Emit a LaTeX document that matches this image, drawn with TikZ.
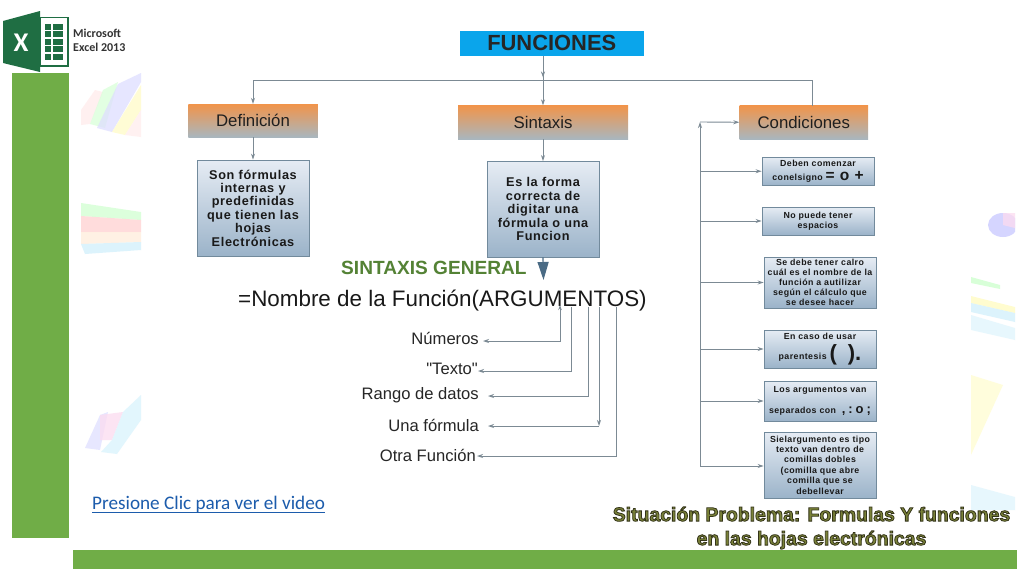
\documentclass[tikz,border=0pt]{standalone}
\usepackage{fontspec}
\setmainfont{Liberation Sans}
\newfontfamily\carl{Carlito}
\newfontfamily\plainf{Liberation Sans}
\usetikzlibrary{arrows.meta,calc}
\definecolor{xlgreen}{HTML}{70AD47}
\definecolor{xldark}{HTML}{1F6E43}
\definecolor{linec}{HTML}{7C8A94}
\definecolor{bigarr}{HTML}{4A6B85}
\definecolor{orangetop}{HTML}{F1944A}
\definecolor{orangebot}{HTML}{A9B6BE}
\definecolor{bluetop}{HTML}{E6ECF4}
\definecolor{bluebot}{HTML}{9BB3C9}
\definecolor{boxedge}{HTML}{728A9C}
\definecolor{funcblue}{HTML}{0AA5EB}
\definecolor{sggreen}{HTML}{548235}
\definecolor{linkblue}{HTML}{1C5CAC}
\definecolor{olive}{HTML}{7A8238}
\newcommand{\boxf}[1]{\fontsize{#1}{#1}\bfseries\addfontfeature{LetterSpace=5}}
\newcommand{\bigs}[2]{{\fontsize{#1}{#1}\selectfont\addfontfeature{LetterSpace=0}#2}}
\tikzset{
 x=1pt,y=-1pt,
 orangebox/.style={draw=none,top color=orangetop,bottom color=orangebot,inner sep=0,text=black!88,font=\fontsize{16.8}{16.8}\selectfont},
 bluebox/.style={draw=boxedge,line width=0.9pt,top color=bluetop,bottom color=bluebot,inner sep=0,align=center,text=black!90},
 conn/.style={draw=linec,line width=0.9pt},
 tip/.style={-{Stealth[length=6pt,width=4pt]}},
 tiptwo/.style={{Stealth[length=5pt,width=3.5pt]}-{Stealth[length=6pt,width=4pt]}},
 lab/.style={anchor=base east,inner sep=0,text=black!85,font=\fontsize{16.6}{16.6}\selectfont},
 wm/.style={draw=none,fill opacity=.75},
}
\begin{document}
\begin{tikzpicture}
\useasboundingbox (0,0) rectangle (1024,576);
\fill[white] (0,0) rectangle (1024,576);

% faint watermarks
\begin{scope}
\clip (81,70) rectangle (141,460);
\fill[wm,fill=pink!30] (81,110) -- (95,90) -- (103,92) -- (90,124) -- (81,125) -- cycle;
\fill[wm,fill=green!15] (90,124) -- (103,90) -- (118,82) -- (105,128) -- cycle;
\fill[wm,fill=blue!13] (97,128) -- (118,84) -- (141,73) -- (141,82) -- (112,132) -- cycle;
\fill[wm,fill=yellow!22] (112,132) -- (141,85) -- (141,110) -- (125,135) -- cycle;
\fill[wm,fill=pink!28] (125,135) -- (141,110) -- (141,137) -- cycle;
\fill[wm,fill=green!18] (81,203) -- (141,212) -- (141,220) -- (81,216) -- cycle;
\fill[wm,fill=red!18] (81,216) -- (141,220) -- (141,232) -- (81,232) -- cycle;
\fill[wm,fill=orange!14] (81,232) -- (141,232) -- (141,242) -- (81,244) -- cycle;
\fill[wm,fill=cyan!18] (81,244) -- (141,242) -- (141,250) -- (85,254) -- cycle;
\fill[wm,fill=blue!12] (85,448) -- (100,415) -- (108,412) -- (100,450) -- cycle;
\fill[wm,fill=magenta!14] (100,415) -- (123,412) -- (112,440) -- (100,440) -- cycle;
\fill[wm,fill=cyan!15] (101,452) -- (112,440) -- (123,412) -- (141,395) -- (141,420) -- (117,454) -- cycle;
\end{scope}
\begin{scope}
\clip (971,200) rectangle (1015,510);
\fill[wm,fill=blue!22] (1003,225) ellipse (15 and 12);
\fill[wm,fill=magenta!14] (1003,225) -- (1003,213) -- (1015,213) -- (1015,228) -- cycle;
\fill[wm,fill=green!20] (971,277) -- (1000,285) -- (1000,289) -- (971,283) -- cycle;
\fill[wm,fill=yellow!25] (971,296) -- (1015,307) -- (1015,313) -- (971,303) -- cycle;
\fill[wm,fill=cyan!18] (971,303) -- (1015,313) -- (1015,322) -- (971,312) -- cycle;
\fill[wm,fill=cyan!12] (971,315) -- (1015,328) -- (1015,340) -- (971,330) -- cycle;
\fill[wm,fill=yellow!18] (971,375) -- (1003,385) -- (971,455) -- cycle;
\fill[wm,fill=cyan!12] (971,485) -- (1015,497) -- (1015,510) -- (971,510) -- cycle;
\end{scope}

% side bars
\fill[xlgreen] (12,73) rectangle (69,538);
\fill[xlgreen] (73,550) rectangle (1017,569);

% Excel logo
\draw[xldark,line width=1.4pt,fill=white] (40,17.5) rectangle (68,66);
\foreach \yy in {23.5,31,38.5,46,53.5}{
  \fill[xldark] (45,\yy) rectangle (51,\yy+6);
  \fill[xldark] (53,\yy) rectangle (63,\yy+6);
}
\fill[xldark] (3,21) -- (40,11) -- (40,72) -- (3,63) -- cycle;
\node[text=white,inner sep=0,font=\carl\bfseries\fontsize{27}{27}\selectfont] (xl) at (21,43) {X};
\node[anchor=north west,inner sep=0,align=left,text=black!80,font=\carl\bfseries\fontsize{12}{13.5}\selectfont] (msx) at (73,29) {Microsoft\\Excel 2013};

% Title and heads
\node[fill=funcblue,minimum width=184.5pt,minimum height=25.5pt,inner sep=0,font=\fontsize{21.9}{21.9}\bfseries,text=black!85] (func) at (551.75,43.25) {FUNCIONES};
\node[orangebox,minimum width=129.5pt,minimum height=33pt] (def) at (253,120.5) {Definición};
\node[orangebox,minimum width=170pt,minimum height=33.5pt] (sin) at (543,122.25) {Sintaxis};
\node[orangebox,minimum width=128.5pt,minimum height=33.5pt] (con) at (803.75,122.25) {Condiciones};

% Blue boxes
\node[bluebox,minimum width=112pt,minimum height=96pt,font=\boxf{12.7},text width=110pt] (defb) at (253,208)
  {\baselineskip=13.4pt Son fórmulas\\internas y\\predefinidas\\que tienen las\\hojas\\Electrónicas\par};
\node[bluebox,minimum width=112pt,minimum height=95.5pt,font=\boxf{12.7},text width=110pt] (sinb) at (543,209.25)
  {\baselineskip=13.4pt Es la forma\\correcta de\\digitar una\\fórmula o una\\Funcion\par};

\node[bluebox,minimum width=112pt,minimum height=28.5pt,font=\boxf{8.8},text width=110pt] (c1) at (818,171.25)
  {\baselineskip=14.5pt Deben comenzar\\conelsigno \bigs{15.5}{=\,\,o\,\,+}\par};
\node[bluebox,minimum width=112pt,minimum height=28pt,font=\boxf{8.8},text width=110pt] (c2) at (818,221)
  {\baselineskip=10.5pt No puede tener\\espacios\par};
\node[bluebox,minimum width=112pt,minimum height=51pt,font=\boxf{8.8},text width=111pt] (c3) at (820,282.5)
  {\baselineskip=10pt Se debe tener calro\\cuál es el nombre de la\\función a  autilizar\\según el  cálculo que\\se desee hacer\par};
\node[bluebox,minimum width=112pt,minimum height=38pt,font=\boxf{8.8},text width=110pt] (c4) at (820,349)
  {\baselineskip=20pt En caso de usar\\parentesis \raisebox{-1pt}{\bigs{22}{(\,\,\,).}}\par};
\node[bluebox,minimum width=112pt,minimum height=40pt,font=\boxf{8.8},text width=111pt] (c5) at (820,401)
  {\baselineskip=21pt Los argumentos van\\separados con\ \ \bigs{13}{,\ :\ o\ ;}\par};
\node[bluebox,minimum width=112pt,minimum height=66pt,font=\boxf{8.8},text width=111pt] (c6) at (820,465)
  {\baselineskip=10.4pt Sielargumento es tipo\\texto van dentro de\\comillas dobles\\(comilla que abre\\comilla que se\\debellevar\par};

% Connectors top tree
\coordinate (bar) at (543,80.5);
\coordinate (cup) at (812,105.5);
\coordinate (trunktop) at (700,122);
\coordinate (trunkbot) at (700,466);
\draw[conn] (func.south -| sin.north) -- (bar);
\draw[conn,tip] (func.south -| sin.north) -- ($(bar)+(0,-3)$);
\draw[conn,tip] (bar -| def.north) -- (def.north);
\draw[conn] (bar -| def.north) -- (bar -| cup) -- (cup);
\draw[conn,tip] (bar) -- (sin.north);
\draw[conn,tip] (def.south) -- (defb.north);
\draw[conn,tip] (sin.south) -- (sinb.north);
\draw[conn,tip] (trunkbot) -- (trunktop);
\draw[conn,tip] (trunktop) -- (con.west);
\draw[conn,tip] (trunktop |- c1.west) -- (c1.west);
\draw[conn,tip] (trunktop |- c2.west) -- (c2.west);
\draw[conn,tip] (trunktop |- c3.west) -- (c3.west);
\draw[conn,tip] (trunktop |- c4.west) -- (c4.west);
\draw[conn,tip] (trunktop |- c5.west) -- (c5.west);
\draw[conn,tip] (trunkbot) -- (trunkbot -| c6.west);

% Sintaxis general
\node[anchor=base west,inner sep=0,text=sggreen,font=\fontsize{19.1}{19.1}\bfseries] (sg) at (341,274.5) {SINTAXIS GENERAL};
\node[anchor=base west,inner sep=0,text=black!90,font=\fontsize{22.4}{22.4}\selectfont] (form) at (238,306) {=Nombre de la Función(ARGUMENTOS)};
\coordinate (bigend) at (543.5,280);
\draw[bigarr,line width=1.2pt,-{Triangle[length=18pt,width=11pt]}] (sinb.south) -- (bigend);

% Argument list
\node[lab] (ln) at (479,344) {Números};
\node[lab] (lt) at (478,374) {\plainf "Texto"};
\node[lab] (lr) at (479,399) {Rango de datos};
\node[lab] (lu) at (479,431) {Una fórmula};
\node[lab] (lo) at (476,461) {Otra Función};
\coordinate (an) at (560,305);
\coordinate (at) at (571,307);
\coordinate (ar) at (588,307);
\coordinate (au) at (599,307);
\coordinate (ao) at (616,307);
\coordinate (tn) at (483,341);
\coordinate (tt) at (478,371);
\coordinate (tr) at (488,396);
\coordinate (tu) at (488,426);
\coordinate (to) at (477,456);
\draw[conn,tiptwo] (an) |- (tn);
\draw[conn,tip] (at) |- (tt);
\draw[conn,tip] (ar) |- (tr);
\draw[conn,tip] (au) -- (au |- tu);
\draw[conn,tip] (au |- tu) -- (tu);
\draw[conn,tip] (ao) |- (to);

% Link
\node[anchor=base west,inner sep=0,text=linkblue,font=\carl\fontsize{19.2}{19.2}\selectfont] (link) at (92,509.5) {Presione Clic para ver el video};
\draw[linkblue,line width=0.8pt] (link.south west |- 0,512.5) -- (link.south east |- 0,512.5);

% Situation title
\node[inner sep=0,align=center,text=olive,font=\fontsize{19.4}{24}\bfseries] (sit) at (811.5,528)
 {\special{pdf:code 0.2 0.2 0.1 RG 2 Tr 0.8 w}Situación Problema:  Formulas Y funciones\\\special{pdf:code 0.2 0.2 0.1 RG 2 Tr 0.8 w}en las hojas electrónicas\special{pdf:code 0 Tr}};
\end{tikzpicture}
\end{document}
